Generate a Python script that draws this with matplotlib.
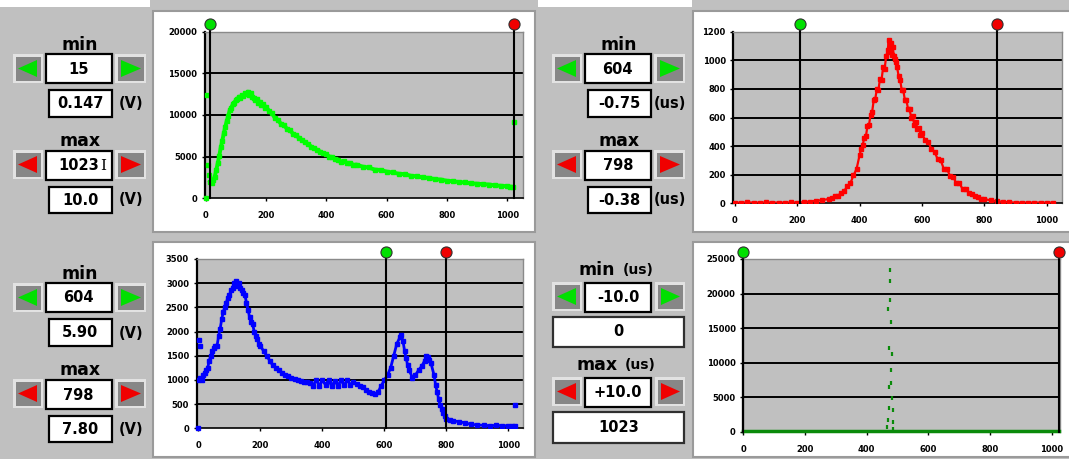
import matplotlib
matplotlib.use('Agg')
import matplotlib.pyplot as plt
from matplotlib.patches import Rectangle, Polygon
import matplotlib.transforms as mtransforms

# ---------------- data ----------------
x_ticks = [0, 200, 400, 600, 800, 1000]

# top-left (green) histogram
tl_ch = [15, 20, 25, 30, 35, 40, 45, 50, 55, 60, 65, 70, 75, 80, 85, 90, 95, 100, 105, 110,
         115, 120, 125, 130, 135, 140, 145, 150, 155, 160, 165, 170, 175, 180, 185, 190, 195,
         200, 210, 220, 230, 240, 250, 260, 270, 280, 290, 300, 310, 320, 330, 340, 350, 360,
         370, 380, 390, 400, 410, 420, 430, 440, 450, 460, 470, 480, 490, 500, 520, 540, 560,
         580, 600, 620, 640, 660, 680, 700, 720, 740, 760, 780, 800, 820, 840, 860, 880, 900,
         920, 940, 960, 980, 1000, 1010, 1020]
tl_val = [2000, 1800, 2200, 2600, 3400, 4200, 5100, 6100, 6900, 7800, 8600, 9300, 9900, 10600,
          10900, 11300, 11500, 11800, 11900, 12200, 12100, 12400, 12300, 12600, 12500, 12800,
          12400, 12600, 12200, 12100, 11800, 11900, 11500, 11600, 11200, 11300, 10900, 11000,
          10500, 10200, 9600, 9400, 8900, 8800, 8300, 8200, 7700, 7600, 7200, 7000, 6700, 6500,
          6200, 6000, 5800, 5600, 5400, 5300, 5000, 4950, 4700, 4650, 4400, 4450, 4200, 4250,
          4000, 4050, 3800, 3700, 3450, 3400, 3200, 3100, 2950, 2900, 2700, 2650, 2500, 2450,
          2300, 2250, 2100, 2050, 1950, 1900, 1800, 1750, 1700, 1650, 1550, 1500, 1450, 1400, 1350]
tl_out_ch = [0, 3, 8, 10, 1023]
tl_out_val = [0, 12400, 4000, 2800, 9200]
tl_yticks = [0, 5000, 10000, 15000, 20000]
tl_cursor = [15, 1023]

# top-right (red) histogram
tr_ch = [0, 20, 40, 60, 80, 100, 120, 140, 160, 180, 200, 220, 240, 260, 280, 300, 310, 320,
         330, 340, 350, 360, 370, 380, 390, 400, 405, 410, 415, 420, 425, 430, 435, 440, 445,
         450, 455, 460, 465, 470, 475, 480, 485, 490, 493, 496, 500, 503, 506, 510, 513, 516,
         520, 525, 530, 535, 540, 545, 550, 555, 560, 565, 570, 575, 580, 585, 590, 595, 600,
         610, 620, 630, 640, 650, 660, 670, 680, 690, 700, 710, 720, 730, 740, 750, 760, 770,
         780, 790, 800, 820, 840, 860, 880, 900, 920, 940, 960, 980, 1000, 1020]
tr_val = [5, 4, 6, 5, 4, 6, 5, 5, 4, 6, 5, 8, 12, 18, 22, 30, 35, 48, 52, 72, 85, 118, 140,
          195, 240, 340, 380, 410, 460, 470, 540, 550, 620, 640, 720, 730, 800, 790, 870, 860,
          950, 940, 1030, 1070, 1140, 1060, 1120, 1040, 1090, 1030, 1010, 990, 950, 890, 860,
          790, 790, 720, 720, 660, 660, 600, 610, 550, 570, 520, 530, 480, 490, 440, 430, 380,
          360, 310, 300, 240, 240, 190, 185, 140, 140, 100, 100, 72, 68, 48, 46, 32, 30, 20, 14,
          10, 7, 5, 5, 4, 5, 5, 4, 5]
tr_yticks = [0, 200, 400, 600, 800, 1000, 1200]
tr_cursor = [208, 842]

# bottom-left (blue) histogram
bl_ch = [0, 5, 10, 15, 20, 25, 30, 35, 40, 45, 50, 55, 60, 65, 70, 75, 80, 85, 90, 95, 100,
         105, 110, 115, 120, 125, 130, 135, 140, 145, 150, 155, 160, 165, 170, 175, 180, 185,
         190, 195, 200, 210, 220, 230, 240, 250, 260, 270, 280, 290, 300, 310, 320, 330, 340,
         350, 360, 370, 380, 390, 400, 410, 420, 430, 440, 450, 460, 470, 480, 490, 500, 510,
         520, 530, 540, 550, 560, 570, 580, 590, 600, 610, 620, 630, 640, 650, 655, 660, 665,
         670, 675, 680, 690, 700, 710, 720, 730, 735, 740, 745, 750, 760, 765, 770, 775, 780,
         785, 790, 795, 800, 810, 820, 840, 860, 880, 900, 920, 940, 960, 980, 1000, 1010, 1020]
bl_val = [1000, 1050, 1000, 1100, 1150, 1200, 1250, 1400, 1500, 1600, 1650, 1700, 1700, 1900,
          2050, 2250, 2400, 2500, 2600, 2700, 2750, 2850, 2900, 3000, 3050, 2950, 3000, 2900,
          2850, 2800, 2750, 2600, 2450, 2300, 2200, 2150, 2000, 1900, 1850, 1750, 1700, 1600,
          1500, 1400, 1300, 1250, 1200, 1150, 1100, 1080, 1050, 1020, 1000, 980, 960, 950, 940,
          880, 1000, 880, 990, 900, 1000, 870, 980, 880, 990, 890, 1000, 900, 960, 920, 880, 850,
          800, 760, 720, 700, 760, 880, 1000, 1100, 1250, 1500, 1750, 1880, 1920, 1800, 1600,
          1450, 1300, 1200, 1050, 1100, 1200, 1280, 1400, 1500, 1480, 1420, 1350, 1100, 900,
          750, 600, 480, 400, 320, 260, 200, 170, 150, 140, 110, 80, 70, 60, 55, 60, 55, 50, 55, 50]
bl_out_ch = [0, 1, 6, 1022]
bl_out_val = [15, 1830, 1700, 480]
bl_yticks = [0, 500, 1000, 1500, 2000, 2500, 3000, 3500]
bl_cursor = [604, 798]

# bottom-right (dark green) histogram
br_base_ch = [0, 100, 200, 300, 400, 460, 490, 500, 600, 700, 800, 900, 1000, 1023]
br_base_val = [100, 100, 100, 100, 100, 100, 100, 100, 100, 100, 100, 100, 100, 100]
br_spk_ch = [466, 468, 470, 471, 472, 474, 475, 476, 477, 478, 479, 480, 481, 482, 484, 485, 487]
br_spk_val = [720, 17760, 1690, 6500, 3380, 12060, 23400, 21800, 19060, 7000, 15830, 8930,
              11200, 4830, 3140, 1450, 390]
br_yticks = [0, 5000, 10000, 15000, 20000, 25000]
br_cursor = [0, 1023]

# control texts
tl_texts = ["15", "0.147", "1023", "10.0"]
tr_texts = ["604", "-0.75", "798", "-0.38"]
bl_texts = ["604", "5.90", "798", "7.80"]
br_texts = ["-10.0", "0", "+10.0", "1023"]

# ---------------- figure ----------------
W, H = 1069, 459
GREY = '#C0C0C0'
fig = plt.figure(figsize=(W / 100, H / 100), dpi=100, facecolor=GREY)
bg = fig.add_axes([0, 0, 1, 1])
bg.set_xlim(0, W)
bg.set_ylim(H, 0)
bg.axis('off')
bg.set_zorder(0)

FONT = 'DejaVu Sans'


def rect(x0, y0, x1, y1, fc, ec='none', lw=0, z=1):
    bg.add_patch(Rectangle((x0, y0), x1 - x0, y1 - y0, facecolor=fc, edgecolor=ec,
                           linewidth=lw, zorder=z))


def txt(x, y, s, fs=10.5, **kw):
    bg.text(x, y, s, ha='center', va='center', fontsize=fs, fontweight='bold',
            family=FONT, color='black', zorder=10, **kw)


def button(x0, y0, x1, y1, color, left):
    rect(x0, y0, x1, y1, '#E2E2E2', z=2)
    rect(x0 + 3, y0 + 3, x1 - 2, y1 - 2, '#878787', z=3)
    ym = (y0 + y1) / 2
    if left:
        pts = [(x0 + 5, ym), (x1 - 6, y0 + 6), (x1 - 6, y1 - 6)]
    else:
        pts = [(x1 - 5, ym), (x0 + 6, y0 + 6), (x0 + 6, y1 - 6)]
    bg.add_patch(Polygon(pts, closed=True, facecolor=color, edgecolor='none', zorder=4))


def tbox(x0, y0, x1, y1, s, fs=10.5, ec='black'):
    rect(x0, y0, x1, y1, 'white', ec=ec, lw=1.6, z=3)
    txt((x0 + x1) / 2, (y0 + y1) / 2 + 0.5, s, fs=fs)


def panel(x0, y0, x1, y1):
    rect(x0, y0, x1, y1, 'white', ec='#9A9A9A', lw=1.5, z=1)


# white strips at the top edge
rect(0, 0, 150, 7, 'white', z=0.5)
rect(538, 0, 692, 7, 'white', z=0.5)

# panels
panel(153, 11, 535, 232)
panel(693, 11, 1072, 232)
panel(153, 242, 535, 457)
panel(693, 242, 1072, 457)

GREEN = '#00E000'
RED = '#F00000'


def control_block(dx, dy, texts, unit):
    txt(80 + dx, 45 + dy, "min", fs=12.5)
    button(13 + dx, 54 + dy, 43 + dx, 83 + dy, GREEN, True)
    tbox(46 + dx, 54 + dy, 111.5 + dx, 83 + dy, texts[0])
    button(115 + dx, 54 + dy, 146 + dx, 83 + dy, GREEN, False)
    tbox(48.5 + dx, 90 + dy, 111.5 + dx, 116.5 + dy, texts[1])
    txt(131 + dx, 104 + dy, unit, fs=10.5)
    txt(80 + dx, 141 + dy, "max", fs=12.5)
    button(13 + dx, 150 + dy, 43 + dx, 179 + dy, RED, True)
    tbox(46 + dx, 151 + dy, 111.5 + dx, 180 + dy, texts[2])
    button(115 + dx, 150 + dy, 146 + dx, 179 + dy, RED, False)
    tbox(48.5 + dx, 187 + dy, 111.5 + dx, 213 + dy, texts[3])
    txt(131 + dx, 200 + dy, unit, fs=10.5)


control_block(0, 0, tl_texts, "(V)")
bg.text(103, 166, "I", ha='center', va='center', fontsize=11, family='DejaVu Serif',
        color='black', zorder=11)
control_block(0, 229, bl_texts, "(V)")
control_block(539, 0, tr_texts, "(us)")

dx = 539
txt(597, 270, "min", fs=12.5)
txt(638, 270, "(us)", fs=10)
button(13 + dx, 282, 43 + dx, 311, GREEN, True)
tbox(46 + dx, 282.5, 112 + dx, 311.5, br_texts[0])
button(116 + dx, 282, 146 + dx, 311, GREEN, False)
tbox(553, 316.5, 684, 346.5, br_texts[1], ec='#303030')
txt(597, 365, "max", fs=12.5)
txt(640, 365, "(us)", fs=10)
button(13 + dx, 377, 43 + dx, 406, RED, True)
tbox(46 + dx, 377.5, 112 + dx, 406.5, br_texts[2])
button(116 + dx, 377, 146 + dx, 406, RED, False)
tbox(553, 412, 684, 443, br_texts[3], ec='#303030')


# ---------------- data axes ----------------
def data_ax(x0, y0, x1, y1, xlim, yticks):
    ax = fig.add_axes([x0 / W, 1 - y1 / H, (x1 - x0) / W, (y1 - y0) / H])
    ax.set_zorder(2)
    ax.set_facecolor(GREY)
    ax.set_xlim(*xlim)
    ax.set_ylim(yticks[0], yticks[-1])
    ax.set_xticks(x_ticks)
    ax.set_xticklabels([str(v) for v in x_ticks])
    ax.set_yticks(yticks)
    ax.set_yticklabels([str(v) for v in yticks])
    for yv in yticks[1:-1]:
        ax.axhline(yv, color='black', lw=1.4, zorder=1)
    ax.spines['left'].set_color('black')
    ax.spines['left'].set_linewidth(1.6)
    ax.spines['bottom'].set_color('black')
    ax.spines['bottom'].set_linewidth(1.2)
    for s in ('top', 'right'):
        ax.spines[s].set_color('#8A8A8A')
        ax.spines[s].set_linewidth(1.0)
    ax.tick_params(axis='both', direction='out', length=2.5, width=1.0, colors='black',
                   labelsize=6)
    ax.tick_params(axis='x', pad=7)
    ax.tick_params(axis='y', pad=3)
    for lab in ax.get_xticklabels() + ax.get_yticklabels():
        lab.set_fontweight('bold')
        lab.set_family(FONT)
    return ax


def cursors(ax, xs, top_px, height_px, cy):
    yf = 1 + (top_px - cy) / height_px
    trans = mtransforms.blended_transform_factory(ax.transData, ax.transAxes)
    for xv, c in zip(xs, ['#00E000', '#F00000']):
        ax.plot([xv, xv], [0, yf], color='black', lw=1.5, transform=trans,
                clip_on=False, zorder=5)
        ax.plot([xv], [yf], 'o', ms=8, mfc=c, mec='#303030', mew=0.8, transform=trans,
                clip_on=False, zorder=6)


ax1 = data_ax(205, 31.7, 523, 198.3, (-2.3, 1052), tl_yticks)
ax1.plot(tl_ch, tl_val, color='#00FF00', lw=2.8, marker='s', ms=2.4, zorder=3)
ax1.plot(tl_out_ch, tl_out_val, 's', color='#00FF00', ms=2.2, zorder=3, clip_on=False)
cursors(ax1, tl_cursor, 31.7, 166.6, 24)

ax2 = data_ax(733.3, 31.7, 1061.7, 203.3, (-5.4, 1048), tr_yticks)
ax2.plot(tr_ch, tr_val, color='#FF0000', lw=1.6, marker='s', ms=2.2, zorder=3)
cursors(ax2, tr_cursor, 31.7, 171.6, 24)

ax3 = data_ax(196.7, 259, 522.7, 428.3, (-5.5, 1046), bl_yticks)
ax3.plot(bl_ch, bl_val, color='#0000FF', lw=2.0, marker='s', ms=2.2, zorder=3)
ax3.plot(bl_out_ch, bl_out_val, 's', color='#0000FF', ms=2.2, zorder=3, clip_on=False)
cursors(ax3, bl_cursor, 259, 169.3, 252.3)

ax4 = data_ax(743.3, 259, 1060, 431.7, (0, 1027), br_yticks)
ax4.plot(br_base_ch, br_base_val, color='#0A8A0A', lw=2.5, zorder=3, clip_on=False)
ax4.plot(br_spk_ch, br_spk_val, '|', color='#0A8A0A', ms=3.5, mew=1.6, zorder=3)
cursors(ax4, br_cursor, 259, 172.7, 251.7)

fig.savefig('out.png', dpi=100, facecolor=GREY)
